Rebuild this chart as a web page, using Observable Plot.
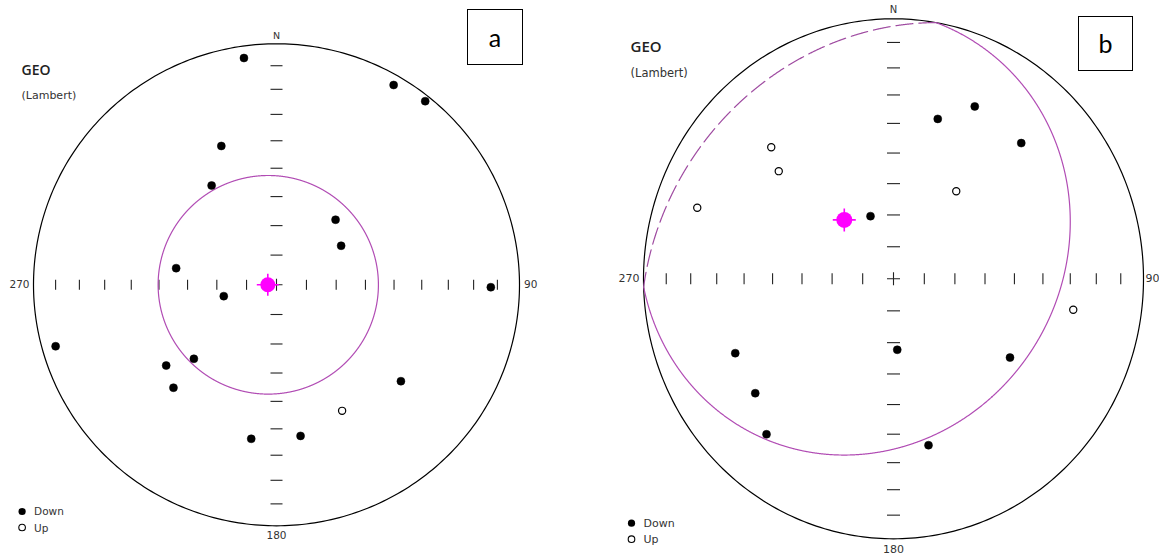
<!DOCTYPE html>
<html><head><meta charset="utf-8">
<script src="https://cdn.jsdelivr.net/npm/d3@7"></script>
<script src="https://cdn.jsdelivr.net/npm/@observablehq/plot@0.6"></script>
<style>
html,body{margin:0;padding:0;background:#fff;overflow:hidden}
#wrap{position:relative;width:1159px;height:556px;background:#fff}
.panel{position:absolute;top:0}
.box{position:absolute;border:1px solid #000;box-sizing:border-box;display:flex;align-items:center;justify-content:center;font-family:Lato,"Open Sans",sans-serif;font-size:25px;color:#000;background:#fff;line-height:1}
</style></head><body>
<div id="wrap"></div>
<script>
// ---------- data (Lambert equal-area, unit primitive circle; x = East, y = North) ----------
const panelLabels = ["a", "b"];
const downA = [[-0.134,0.941],[0.482,0.829],[0.612,0.762],[-0.227,0.576],[-0.267,0.412],[0.243,0.270],[0.266,0.162],[-0.413,0.069],[-0.217,-0.047],[0.882,-0.010],[-0.909,-0.255],[-0.340,-0.307],[-0.454,-0.335],[-0.424,-0.427],[0.512,-0.400],[-0.104,-0.639],[0.099,-0.627]];
const upA = [[0.270,-0.523]];
const downB = [[-0.092,0.241],[0.177,0.615],[0.325,0.663],[0.511,0.522],[-0.633,-0.286],[-0.553,-0.440],[-0.508,-0.598],[0.015,-0.273],[0.466,-0.303],[0.140,-0.640]];
const upB = [[-0.489,0.506],[-0.459,0.414],[-0.785,0.273],[0.251,0.337],[0.719,-0.119]];
// mean direction [trend, plunge] and cone half-angle (deg)
const meanA = [270, 87.1], coneA = 37.4;
const meanB = [319, 65.5], coneB = 74.8;
const tickPlunges = [10,20,30,40,50,60,70,80];
const cardinal = ["N", "90", "180", "270"];
const legendText = ["Down", "Up"];
const titleText = ["GEO", "(Lambert)"];

// ---------- helpers ----------
const deg = Math.PI/180;
const proj = (E,N,D) => { const k = 1/Math.sqrt(1+Math.abs(D)); return [E*k, N*k]; };
const dirVec = (t,p) => [Math.sin(t*deg)*Math.cos(p*deg), Math.cos(t*deg)*Math.cos(p*deg), Math.sin(p*deg)];
function conePts([trend, plunge], alpha){
  const t=trend*deg, p=plunge*deg, a=alpha*deg;
  const c=dirVec(trend,plunge);
  const u=[-Math.sin(t)*Math.sin(p), -Math.cos(t)*Math.sin(p), Math.cos(p)];
  const w=[Math.cos(t), -Math.sin(t), 0];
  const pts=[]; let seg=0, prev=null;
  for(let i=0;i<=2880;i++){
    const f=i/8*deg;
    const v=[0,1,2].map(k=>Math.cos(a)*c[k]+Math.sin(a)*(Math.cos(f)*u[k]+Math.sin(f)*w[k]));
    const lower=v[2]>=0;
    if(prev!==null && lower!==prev) seg++;
    prev=lower;
    const [x,y]=proj(...v);
    pts.push({x,y,seg,lower});
  }
  return pts;
}
const symLine = (hx, vy) => ({draw(ctx,size){const r=Math.sqrt(size/Math.PI); if(hx){ctx.moveTo(-r,0);ctx.lineTo(r,0);} if(vy){ctx.moveTo(0,-r);ctx.lineTo(0,r);}}});
const vbar = symLine(false,true), hbar = symLine(true,false), cross = symLine(true,true);
const circle = d3.range(0,361,1).map(a=>({x:Math.cos(a*deg), y:Math.sin(a*deg)}));
const tickR = tickPlunges.map(p=>Math.SQRT2*Math.sin((90-p)/2*deg));
const hTicks = tickR.flatMap(r=>[[r,0],[-r,0]]);
const vTicks = tickR.flatMap(r=>[[0,r],[0,-r]]);

function panel(o){
  const mean = proj(...dirVec(...o.mean));
  const cone = conePts(o.mean, o.alpha);
  const lab = {fontFamily:"DejaVu Sans", fontSize:o.fs, fill:"#333"};
  return Plot.plot({
    width:o.width, height:556,
    marginLeft:o.ml, marginRight:o.mr, marginTop:o.mt, marginBottom:o.mb,
    x:{domain:[-1,1], axis:null}, y:{domain:[-1,1], axis:null},
    style:{background:"transparent", overflow:"visible"},
    marks:[
      Plot.line(circle,{x:"x",y:"y",stroke:"#000",strokeWidth:1.2}),
      Plot.dot(hTicks,{x:d=>d[0],y:d=>d[1],symbol:vbar,r:o.tk,stroke:"#222",fill:"none",strokeWidth:1.1}),
      Plot.dot(vTicks,{x:d=>d[0],y:d=>d[1],symbol:hbar,r:o.tk+1,stroke:"#222",fill:"none",strokeWidth:1.1}),
      Plot.dot([0],{x:0,y:0,symbol:cross,r:o.tk+1,stroke:"#222",fill:"none",strokeWidth:1.1}),
      Plot.line(cone.filter(d=>d.lower),{x:"x",y:"y",z:"seg",stroke:"#b14cb4",strokeWidth:1.2}),
      Plot.line(cone.filter(d=>!d.lower),{x:"x",y:"y",z:"seg",stroke:"#9e4aa0",strokeWidth:1.2,strokeDasharray:"17,6"}),
      Plot.dot(o.down,{x:d=>d[0],y:d=>d[1],r:4,fill:"#000",stroke:"#000",strokeWidth:0.5}),
      Plot.dot(o.up,{x:d=>d[0],y:d=>d[1],r:3.6,fill:"#fff",stroke:"#000",strokeWidth:1.2}),
      Plot.dot([mean],{x:d=>d[0],y:d=>d[1],symbol:cross,r:o.mr2+3.5,stroke:"#f0f",strokeWidth:1.6,fill:"none"}),
      Plot.dot([mean],{x:d=>d[0],y:d=>d[1],r:o.mr2,fill:"#f0f"}),
      // cardinal labels
      Plot.text([cardinal[0]],{x:0,y:1,dy:o.nDy,textAnchor:"middle",...lab,fontSize:o.fs-1}),
      Plot.text([cardinal[1]],{x:1,y:0,dx:o.eDx,textAnchor:"start",...lab}),
      Plot.text([cardinal[2]],{x:0,y:-1,dy:o.sDy,textAnchor:"middle",...lab}),
      Plot.text([cardinal[3]],{x:-1,y:0,dx:-4,textAnchor:"end",...lab}),
      // title
      Plot.text([titleText[0]],{frameAnchor:"top-left",dx:o.gDx,dy:o.gDy,textAnchor:"start",fontFamily:"Open Sans",fontWeight:600,fontSize:o.gfs,fill:"#222"}),
      Plot.text([titleText[1]],{frameAnchor:"top-left",dx:o.gDx,dy:o.lDy,textAnchor:"start",...lab,fontSize:o.fs+0.5}),
      // legend
      Plot.dot([0],{frameAnchor:"bottom-left",dx:o.legDx,dy:o.legDy,r:3.6,fill:"#000"}),
      Plot.dot([0],{frameAnchor:"bottom-left",dx:o.legDx,dy:o.legDy+16,r:3.3,fill:"#fff",stroke:"#000",strokeWidth:1.1}),
      Plot.text([legendText[0]],{frameAnchor:"bottom-left",dx:o.legDx+12,dy:o.legDy+3.5,textAnchor:"start",...lab}),
      Plot.text([legendText[1]],{frameAnchor:"bottom-left",dx:o.legDx+12,dy:o.legDy+20,textAnchor:"start",...lab})
    ]
  });
}

const wrap = document.getElementById("wrap");
const A = panel({down:downA, up:upA, mean:meanA, alpha:coneA, width:580, ml:33, mr:61, mt:43.3, mb:30.7,
  fs:10.5, tk:5, mr2:7.5, nDy:-7.5, eDx:4.5, sDy:10, gDx:-12, gDy:21.5, lDy:47, gfs:14, legDx:-11.4, legDy:-14.3});
A.classList.add("panel"); A.style.left="0px"; wrap.appendChild(A);
const B = panel({down:downB, up:upB, mean:meanB, alpha:coneB, width:579, ml:63, mr:16, mt:18.3, mb:17.7,
  fs:11, tk:5.5, mr2:8, nDy:-9, eDx:2, sDy:11, gDx:-13, gDy:22.4, lDy:50, gfs:15, legDx:-12, legDy:-15.6});
B.classList.add("panel"); B.style.left="580px"; wrap.appendChild(B);

const boxes = [[467,9,56,56],[1078,16,55,55]];
boxes.forEach(([l,t,w,h],i)=>{
  const d=document.createElement("div"); d.className="box";
  Object.assign(d.style,{left:l+"px",top:t+"px",width:w+"px",height:h+"px"});
  d.textContent=panelLabels[i]; wrap.appendChild(d);
});
</script>
</body></html>
